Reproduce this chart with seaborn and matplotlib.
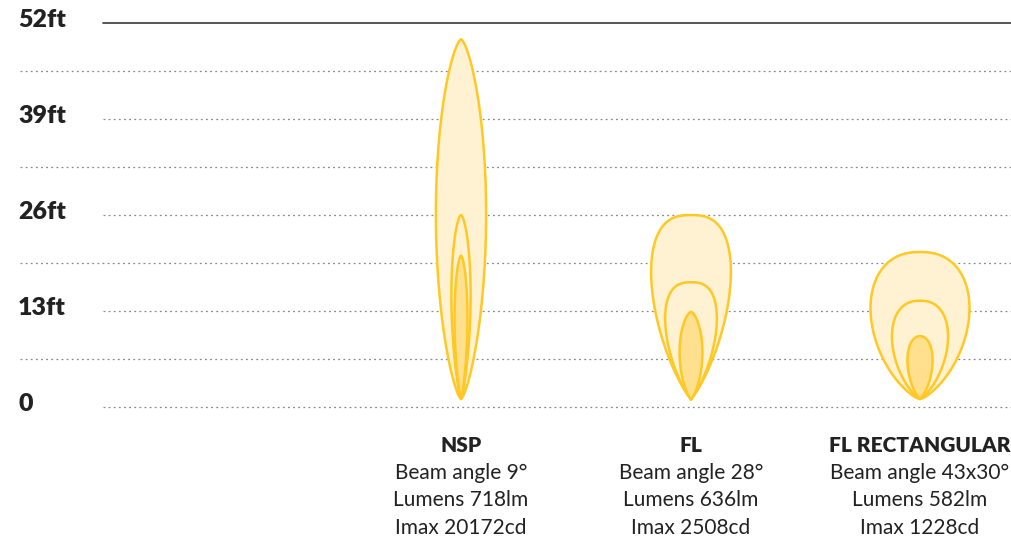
import numpy as np
import matplotlib
matplotlib.use("Agg")
import matplotlib.pyplot as plt
import seaborn as sns

# ---------------- data ----------------
beam_names = ["NSP", "FL", "FL RECTANGULAR"]
beam_angles = ["Beam angle 9°", "Beam angle 28°", "Beam angle 43x30°"]
lumens = ["Lumens 718lm", "Lumens 636lm", "Lumens 582lm"]
imax = ["Imax 20172cd", "Imax 2508cd", "Imax 1228cd"]

# beam contour reach (ft) for outer, middle, inner contour
nsp_length = [48.7, 24.9, 19.4]
fl_length = [24.9, 15.8, 11.8]
rect_length = [19.9, 13.3, 8.5]
# beam contour max width (ft)
nsp_width = [6.8, 2.6, 1.75]
fl_width = [10.8, 7.0, 3.1]
rect_width = [13.4, 7.6, 3.4]

tick_values = [0, 13, 26, 39, 52]
tick_labels = ["0", "13ft", "26ft", "39ft", "52ft"]
minor_grid = [6.5, 19.5, 32.5, 45.5]

# ---------------- style / layout ----------------
sns.set_theme(style="white")
plt.rcParams["font.family"] = ["Lato", "DejaVu Sans"]

W, H = 1011, 544
fig = plt.figure(figsize=(W / 100, H / 100), dpi=100)
y0_px, y52_px = 406.7, 22.7
ppf = (y0_px - y52_px) / 52.0  # px per ft
left_px = 103
ax = fig.add_axes([left_px / W, (H - y0_px) / H, 1 - left_px / W, (y0_px - y52_px) / H])
xmax = (W - left_px) / ppf
ax.set_xlim(0, xmax)
ax.set_ylim(0, 52)
ax.set_axis_off()

centers = [(461 - left_px) / ppf, (691 - left_px) / ppf, (920 - left_px) / ppf]
origin_y = 1.05
# shape style per contour: ("polar", p) or ("profile", (alpha, beta))
shape_spec = [
    [("profile", (0.72, 0.68)), ("profile", (0.8, 0.62)), ("profile", (0.8, 0.62))],
    [("polar", 3.0), ("polar", 3.0), ("profile", (0.75, 0.65))],
    [("polar", 2.6), ("polar", 2.6), ("polar", 2.2)],
]

edge = "#FFC824"
fill_light = "#FFF2D2"
fill_dark = "#FFE08E"

# gridlines
dots = (0, (1.5, 2.6))
for v in tick_values[:-1]:
    ax.plot([0, xmax], [v, v], color="#8a8a8a", lw=0.9, linestyle=dots,
            zorder=1, clip_on=False)
for v in minor_grid:
    ax.plot([(20 - left_px) / ppf, xmax], [v, v], color="#8a8a8a", lw=0.9,
            linestyle=dots, zorder=1, clip_on=False)
ax.plot([0, xmax], [52, 52], color="#3a3a3a", lw=1.2, zorder=1, clip_on=False)

for v, lab in zip(tick_values, tick_labels):
    ax.text((18 - left_px) / ppf, v + 0.35, lab, ha="left", va="center",
            fontsize=18, fontweight="heavy", color="#222222", clip_on=False)


def polar_lobe(L, w, p):
    # polar lobe r = L*exp(-0.5*(t/s)^p); find s so max width = w
    def width_for(s):
        t = np.linspace(0, np.pi / 2, 4000)
        r = L * np.exp(-0.5 * (t / s) ** p)
        return 2 * np.max(r * np.sin(t))
    lo, hi = 1e-4, 1.5
    for _ in range(60):
        mid = 0.5 * (lo + hi)
        if width_for(mid) < w:
            lo = mid
        else:
            hi = mid
    s = 0.5 * (lo + hi)
    t = np.linspace(-np.pi / 2, np.pi / 2, 1500)
    r = L * np.exp(-0.5 * (np.abs(t) / s) ** p)
    return r * np.sin(t), r * np.cos(t)


def profile_lobe(L, w, ab):
    a, b = ab
    t = np.linspace(0, 1, 1200)
    g = t ** a * (1 - t) ** b
    g = g / g.max()
    x = np.concatenate([(w / 2) * g, -(w / 2) * g[::-1]])
    y = np.concatenate([L * t, L * t[::-1]])
    return x, y


lengths = [nsp_length, fl_length, rect_length]
widths = [nsp_width, fl_width, rect_width]
for i, cx in enumerate(centers):
    for j in range(3):
        kind, prm = shape_spec[i][j]
        if kind == "polar":
            x, y = polar_lobe(lengths[i][j], widths[i][j], prm)
        else:
            x, y = profile_lobe(lengths[i][j], widths[i][j], prm)
        fc = fill_dark if j == 2 else fill_light
        ax.fill(cx + x, origin_y + y, facecolor=fc, edgecolor=edge, lw=1.8,
                zorder=3 + j, joinstyle="round")

# captions
cap_y0 = (y0_px - 445) / ppf
step = 27.7 / ppf
for i, cx in enumerate(centers):
    ax.text(cx, cap_y0, beam_names[i], ha="center", va="center", fontsize=15,
            fontweight="heavy", color="#222222", clip_on=False)
    for k, line in enumerate([beam_angles[i], lumens[i], imax[i]]):
        ax.text(cx, cap_y0 - step * (k + 1), line, ha="center", va="center",
                fontsize=15, color="#222222", clip_on=False)

fig.savefig("out.png", dpi=100)
